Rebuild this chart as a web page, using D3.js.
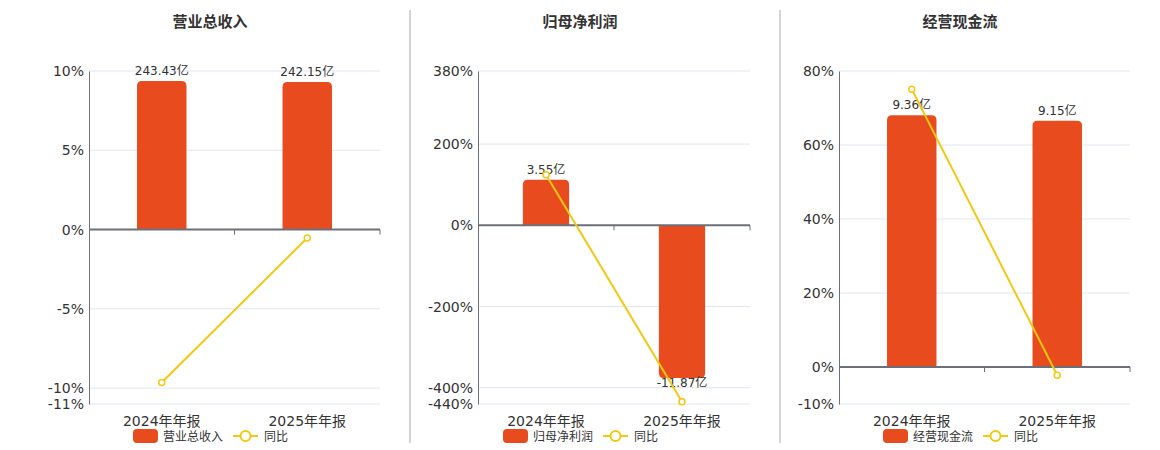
<!DOCTYPE html>
<html>
<head>
<meta charset="utf-8">
<script src="https://cdn.jsdelivr.net/npm/d3@7"></script>
<style>
  body { margin: 0; background: #fff; }
  svg text { font-family: "DejaVu Sans", "Noto Sans CJK SC", sans-serif; fill: #333; }
</style>
</head>
<body>
<svg id="chart" width="1160" height="450"></svg>
<script>
// data
var categories = ['2024年年报', '2025年年报'];
var titles = ['营业总收入', '归母净利润', '经营现金流'];
var revenue = [243.43, 242.15];
var revenueYoy = [-9.64, -0.53];
var netProfit = [3.55, -11.87];
var netProfitYoy = [124.4, -434.4];
var cashFlow = [9.36, 9.15];
var cashFlowYoy = [75.1, -2.24];
var pctTicks1 = [10, 5, 0, -5, -10, -11];
var pctTicks2 = [380, 200, 0, -200, -400, -440];
var pctTicks3 = [80, 60, 40, 20, 0, -10];
var barAxisMax = [260, 12, 11];

var barColor = '#e84c1e';
var lineColor = '#f2c811';

var panels = [
  { title: titles[0], bars: revenue, yoy: revenueYoy, ticks: pctTicks1, barMax: barAxisMax[0], left: 89, right: 380, center: 210 },
  { title: titles[1], bars: netProfit, yoy: netProfitYoy, ticks: pctTicks2, barMax: barAxisMax[1], left: 478, right: 750, center: 580 },
  { title: titles[2], bars: cashFlow, yoy: cashFlowYoy, ticks: pctTicks3, barMax: barAxisMax[2], left: 839, right: 1130, center: 960 }
];

var svg = d3.select('#chart');
var plotTop = 71, plotBottom = 404;

// dividers between panels
[410, 780].forEach(function (x) {
  svg.append('line')
    .attr('x1', x).attr('x2', x).attr('y1', 10).attr('y2', 443)
    .attr('stroke', '#aaa').attr('stroke-width', 1);
});

// rounded-top (or rounded-bottom for negatives) bar path
function barPath(x, y0, y1, w, r) {
  var h = Math.abs(y1 - y0);
  r = Math.min(r, h);
  if (y1 <= y0) {
    return 'M' + x + ',' + y0 + 'V' + (y1 + r) +
      'Q' + x + ',' + y1 + ' ' + (x + r) + ',' + y1 +
      'H' + (x + w - r) + 'Q' + (x + w) + ',' + y1 + ' ' + (x + w) + ',' + (y1 + r) +
      'V' + y0 + 'Z';
  }
  return 'M' + x + ',' + y0 + 'V' + (y1 - r) +
    'Q' + x + ',' + y1 + ' ' + (x + r) + ',' + y1 +
    'H' + (x + w - r) + 'Q' + (x + w) + ',' + y1 + ' ' + (x + w) + ',' + (y1 - r) +
    'V' + y0 + 'Z';
}

panels.forEach(function (p) {
  var g = svg.append('g');
  var pMax = d3.max(p.ticks), pMin = d3.min(p.ticks);

  var x = d3.scaleBand().domain(categories).range([p.left, p.right]);
  var y = d3.scaleLinear().domain([pMin, pMax]).range([plotBottom, plotTop]);
  // hidden bar axis, zero aligned with the percent axis
  var yBar = d3.scaleLinear().domain([p.barMax * pMin / pMax, p.barMax]).range([plotBottom, plotTop]);

  // title
  g.append('text')
    .attr('x', p.center).attr('y', 27)
    .attr('text-anchor', 'middle')
    .style('font-size', '15px').style('font-weight', 'bold')
    .text(p.title);

  // grid lines
  g.selectAll('.grid').data(p.ticks).enter().append('line')
    .attr('x1', p.left).attr('x2', p.right)
    .attr('y1', function (d) { return y(d); })
    .attr('y2', function (d) { return y(d); })
    .attr('stroke', '#e0e6f1').attr('stroke-width', 1);

  // y axis
  var yAxis = d3.axisLeft(y).tickValues(p.ticks).tickSize(0).tickPadding(5)
    .tickFormat(function (d) { return d + '%'; });
  var ya = g.append('g').attr('transform', 'translate(' + p.left + ',0)').call(yAxis);
  ya.select('.domain').attr('stroke', '#6e7079');
  ya.selectAll('text').style('font-size', '14px').attr('fill', '#333');

  // bars
  var bw = x.bandwidth() * 0.34;
  g.selectAll('.bar').data(p.bars).enter().append('path')
    .attr('fill', barColor)
    .attr('d', function (d, i) {
      var cx = x(categories[i]) + x.bandwidth() / 2;
      return barPath(cx - bw / 2, yBar(0), yBar(d), bw, 5);
    });

  // zero axis with category ticks
  g.append('line')
    .attr('x1', p.left).attr('x2', p.right)
    .attr('y1', y(0)).attr('y2', y(0))
    .attr('stroke', '#6e7079').attr('stroke-width', 2);
  categories.forEach(function (c) {
    var tx = x(c) + x.bandwidth();
    g.append('line')
      .attr('x1', tx).attr('x2', tx)
      .attr('y1', y(0)).attr('y2', y(0) + 5)
      .attr('stroke', '#6e7079').attr('stroke-width', 1);
  });

  // category labels
  g.selectAll('.cat').data(categories).enter().append('text')
    .attr('x', function (d) { return x(d) + x.bandwidth() / 2; })
    .attr('y', 426)
    .attr('text-anchor', 'middle')
    .style('font-size', '14px')
    .text(function (d) { return d; });

  // bar value labels
  g.selectAll('.blabel').data(p.bars).enter().append('text')
    .attr('x', function (d, i) { return x(categories[i]) + x.bandwidth() / 2; })
    .attr('y', function (d) { return d >= 0 ? yBar(d) - 6 : yBar(d) + 9; })
    .attr('text-anchor', 'middle')
    .style('font-size', '12px')
    .text(function (d) { return d.toFixed(2) + '亿'; });

  // yoy line
  var line = d3.line()
    .x(function (d, i) { return x(categories[i]) + x.bandwidth() / 2; })
    .y(function (d) { return y(d); });
  g.append('path').datum(p.yoy)
    .attr('d', line)
    .attr('fill', 'none').attr('stroke', lineColor).attr('stroke-width', 2);
  g.selectAll('.pt').data(p.yoy).enter().append('circle')
    .attr('cx', function (d, i) { return x(categories[i]) + x.bandwidth() / 2; })
    .attr('cy', function (d) { return y(d); })
    .attr('r', 3)
    .attr('fill', '#fff').attr('stroke', lineColor).attr('stroke-width', 1.5);

  // legend
  var lg = g.append('g').attr('transform', 'translate(' + p.center + ',436)');
  lg.append('rect')
    .attr('x', -77).attr('y', -7).attr('width', 25).attr('height', 14).attr('rx', 4)
    .attr('fill', barColor);
  lg.append('text')
    .attr('x', -47).attr('y', 4.5)
    .style('font-size', '12px')
    .text(p.title);
  lg.append('line')
    .attr('x1', 23).attr('x2', 48).attr('y1', 0).attr('y2', 0)
    .attr('stroke', lineColor).attr('stroke-width', 2);
  lg.append('circle')
    .attr('cx', 35.5).attr('cy', 0).attr('r', 5)
    .attr('fill', '#fff').attr('stroke', lineColor).attr('stroke-width', 2);
  lg.append('text')
    .attr('x', 54).attr('y', 4.5)
    .style('font-size', '12px')
    .text('同比');
});
</script>
</body>
</html>
